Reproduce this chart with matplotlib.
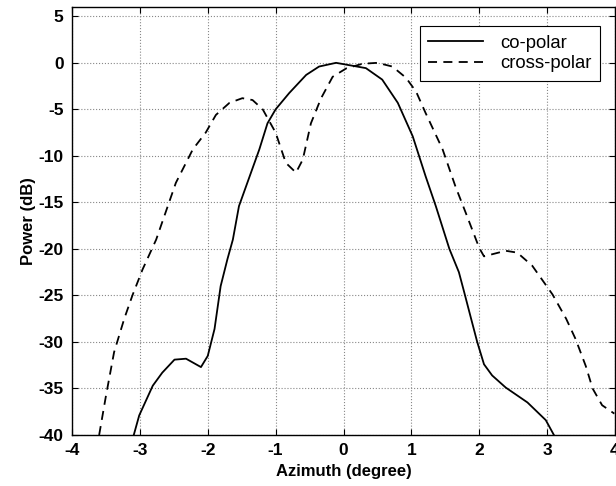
import numpy as np
from matplotlib import pyplot as plt

# co-polar pattern (solid)
co_az = [-3.09, -3.01, -2.81, -2.67, -2.49, -2.32, -2.10, -2.00, -1.90, -1.81, -1.71,
         -1.63, -1.54, -1.24, -1.12, -1.00, -0.80, -0.55, -0.36, -0.11, 0.33, 0.57,
         0.80, 1.02, 1.21, 1.36, 1.56, 1.70, 1.78, 1.88, 1.97, 2.07, 2.19, 2.39, 2.71,
         2.98, 3.10]
co_db = [-40.0, -37.9, -34.7, -33.3, -31.9, -31.8, -32.7, -31.5, -28.6, -24.0, -21.1,
         -19.0, -15.4, -9.3, -6.5, -5.0, -3.25, -1.3, -0.4, 0.0, -0.57, -1.8,
         -4.3, -7.9, -12.2, -15.4, -20.0, -22.5, -24.7, -27.5, -30.0, -32.4, -33.6, -34.9, -36.5,
         -38.4, -40.0]

# cross-polar pattern (dashed)
cx_az = [-3.60, -3.50, -3.38, -3.23, -3.11, -2.96, -2.76, -2.47, -2.22, -2.03, -1.88,
         -1.68, -1.49, -1.34, -1.19, -1.00, -0.85, -0.70, -0.60, -0.48, -0.33, -0.16,
         0.04, 0.28, 0.50, 0.72, 0.92, 1.07, 1.21, 1.46, 1.65, 1.80, 2.00, 2.07, 2.39,
         2.56, 2.78, 3.08, 3.28, 3.42, 3.57, 3.67, 3.81, 3.99]
cx_db = [-40.0, -35.8, -31.1, -27.5, -25.0, -22.2, -19.0, -12.9, -9.3, -7.5, -5.6,
         -4.3, -3.8, -4.0, -5.0, -7.5, -10.75, -11.8, -10.4, -6.5, -3.8, -1.5,
         -0.6, -0.1, 0.0, -0.4, -1.6, -3.1, -5.4, -9.3, -13.3, -16.1, -19.9, -20.8, -20.2,
         -20.4, -21.8, -24.9, -27.5, -29.7, -32.6, -35.0, -36.8, -37.7]

xticks = np.arange(-4, 5, 1)
yticks = np.arange(-40, 6, 5)

plt.rcParams['font.family'] = ['Liberation Sans', 'DejaVu Sans']
plt.rcParams['axes.unicode_minus'] = False
fig = plt.figure(figsize=(6.16, 4.86), dpi=100)
ax = fig.add_axes([72/616, 1-435/486, 543/616, 428/486])

ax.plot(co_az, co_db, 'k-', lw=1.3, label='co-polar')
ax.plot(cx_az, cx_db, 'k--', lw=1.3, dashes=(5, 3.5), label='cross-polar')

ax.set_xlim(-4, 4)
ax.set_ylim(-40, 6)
ax.set_xticks(xticks)
ax.set_yticks(yticks)
ax.tick_params(direction='in', length=4, top=True, right=True, labelsize=12.5, pad=6)
for lbl in ax.get_xticklabels() + ax.get_yticklabels():
    lbl.set_fontweight('bold')
ax.grid(True, color='#888888', linestyle=':', linewidth=0.8)
for s in ax.spines.values():
    s.set_linewidth(1.0)

ax.set_xlabel('Azimuth (degree)', fontsize=12, fontweight='bold', labelpad=4)
ax.set_ylabel('Power (dB)', fontsize=12, fontweight='bold', labelpad=2)

leg = ax.legend(loc='upper right', bbox_to_anchor=(0.972, 0.955), fontsize=13.3,
                frameon=True, fancybox=False, edgecolor='black', framealpha=1,
                handlelength=3.0, handletextpad=0.9, borderpad=0.45, labelspacing=0.2,
                borderaxespad=0)
leg.get_frame().set_linewidth(0.8)

fig.savefig('out.png', dpi=100)
